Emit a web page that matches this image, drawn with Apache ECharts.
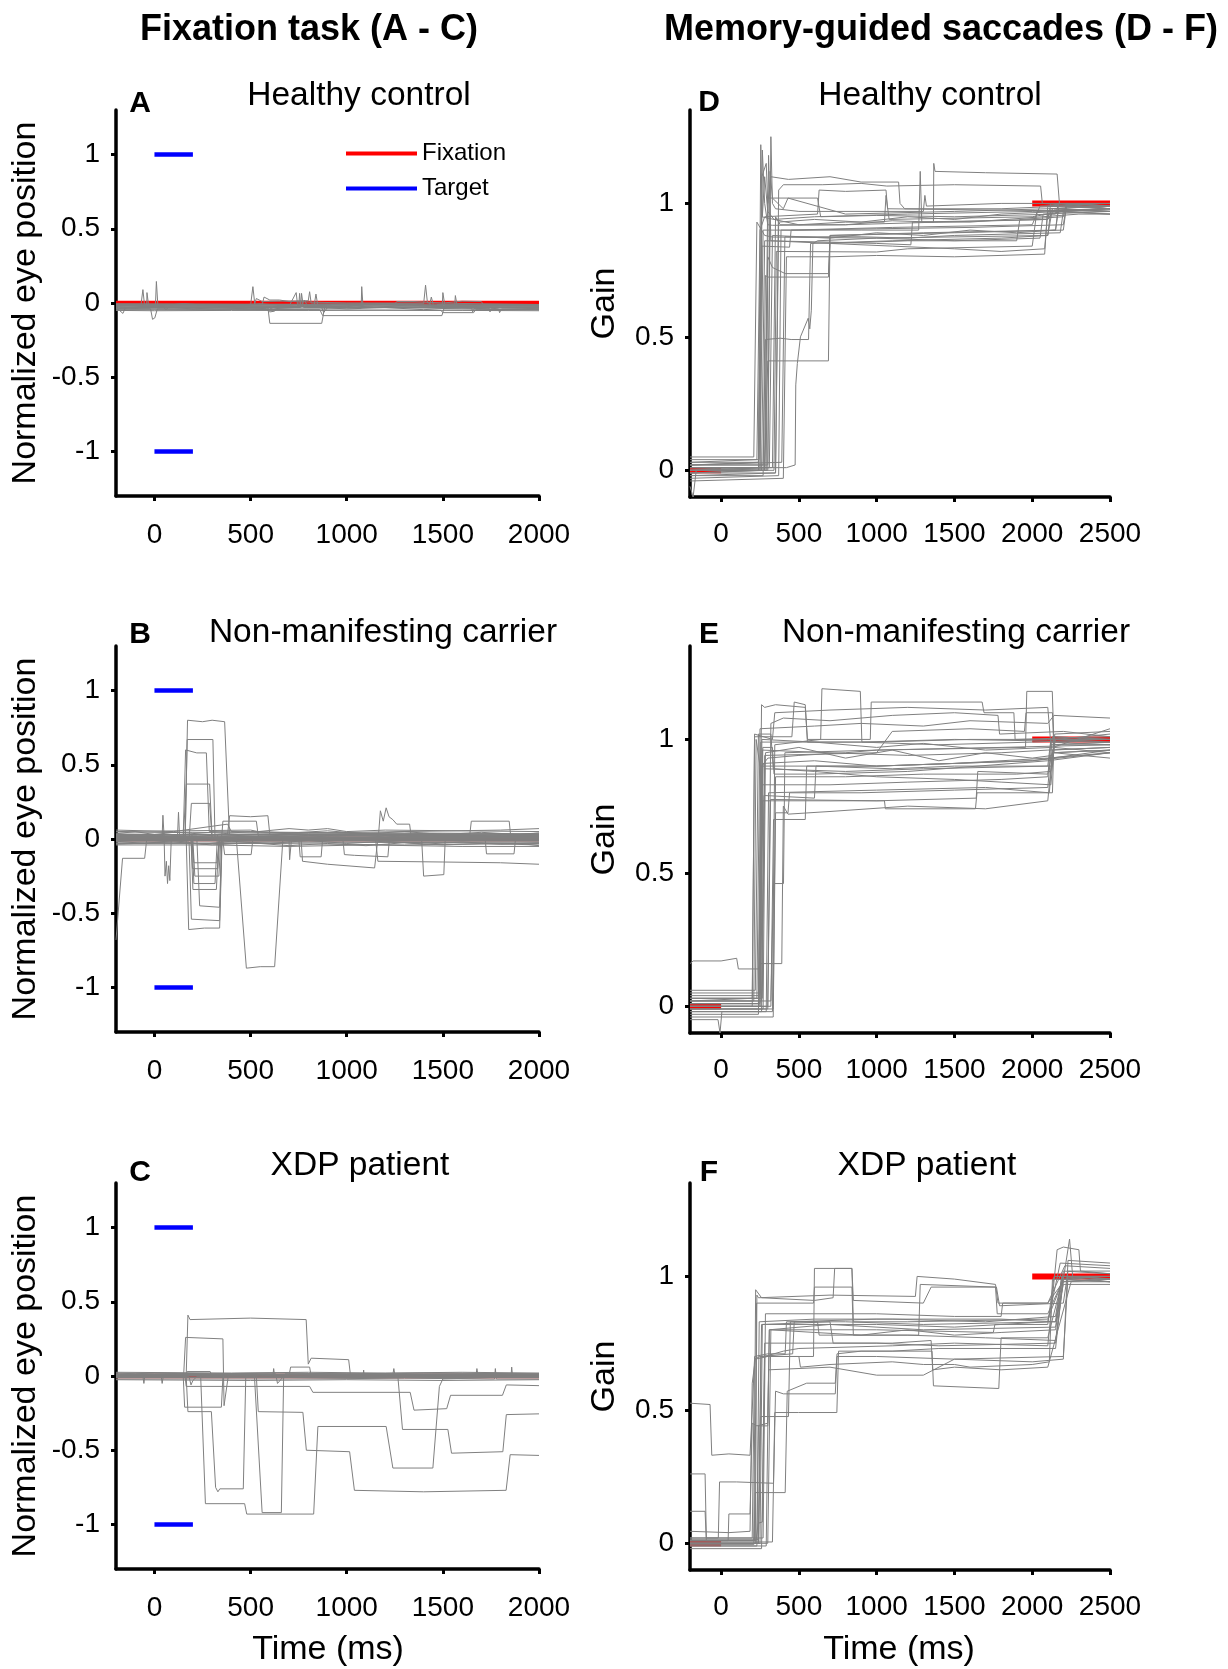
<!DOCTYPE html>
<html>
<head>
<meta charset="utf-8">
<script src="https://cdn.jsdelivr.net/npm/echarts@6/dist/echarts.min.js"></script>
<style>
html,body{margin:0;padding:0;background:#fff;}
#chart{width:1228px;height:1669px;}
</style>
</head>
<body>
<div id="chart"></div>
<script>
// ---------------- DATA ----------------
const leftXTicks = [0, 500, 1000, 1500, 2000];
const rightXTicks = [0, 500, 1000, 1500, 2000, 2500];
const leftYTicks = [-1, -0.5, 0, 0.5, 1];
const rightYTicks = [0, 0.5, 1];

const columnHeaders = ['Fixation task (A - C)', 'Memory-guided saccades (D - F)'];
const panelLetters = ['A', 'B', 'C', 'D', 'E', 'F'];
const panelTitles = ['Healthy control', 'Non-manifesting carrier', 'XDP patient',
                     'Healthy control', 'Non-manifesting carrier', 'XDP patient'];

const fixationLeft = [[-200, 0], [2000, 0]];
const fixationRightStart = [[-200, 0], [0, 0]];
const fixationRightEnd = [[2000, 1], [2500, 1]];
const targetUp = [[0, 1], [200, 1]];
const targetDown = [[0, -1], [200, -1]];

// traces: flat [t, y, t, y, ...]
const healthyFixTraces = [
  [-200,-0.01, -70,-0.012, -60,0.09, -52,-0.01, 500,-0.015, 512,0.11, 522,-0.01, 2000,-0.012],
  [-200,-0.02, -40,-0.02, -39,0.07, -30,-0.02, 5,-0.02, 10,0.145, 18,-0.02, 700,-0.022, 737,0.07, 745,-0.02, 2000,-0.02],
  [-200,-0.03, -164,-0.07, -150,-0.03, 590,-0.03, 600,-0.137, 870,-0.137, 885,-0.03, 2000,-0.03],
  [-200,-0.04, -20,-0.04, -10,-0.11, 2,-0.1, 15,-0.04, 860,-0.045, 875,-0.085, 1495,-0.085, 1505,-0.04, 2000,-0.045],
  [-200,-0.005, 300,-0.008, 520,-0.01, 530,0.03, 560,0.01, 800,0.015, 807,0.076, 815,0.0, 1400,-0.005, 1410,0.12, 1420,0.0, 2000,-0.01],
  [-200,-0.035, 100,-0.03, 580,-0.04, 600,-0.06, 625,-0.055, 640,-0.035, 1075,-0.035, 1078,0.11, 1085,-0.03, 2000,-0.035],
  [-200,-0.015, 40,-0.02, 60,-0.045, 80,-0.02, 830,-0.02, 840,0.06, 850,-0.02, 1497,-0.02, 1500,0.07, 1510,-0.015, 2000,-0.02],
  [-200,-0.028, 760,-0.03, 765,0.065, 775,-0.03, 870,-0.03, 880,-0.065, 900,-0.03, 1561,-0.025, 1565,0.05, 1575,-0.025, 2000,-0.025],
  [-200,-0.045, 500,-0.045, 1490,-0.05, 1500,-0.065, 1660,-0.065, 1670,-0.045, 2000,-0.045],
  [-200,-0.022, 900,-0.022, 1000,-0.025, 1100,-0.01, 1300,-0.01, 1400,-0.02, 2000,-0.03],
  [-200,-0.038, 600,-0.04, 640,-0.02, 1000,-0.03, 1650,-0.035, 1655,-0.06, 1665,-0.035, 1740,-0.035, 1745,-0.06, 1755,-0.035, 1790,-0.04, 1795,-0.065, 1805,-0.04, 2000,-0.04],
  [-200,-0.012, 560,-0.012, 570,0.04, 600,0.02, 650,0.02, 700,0.01, 1000,0.0, 1430,0.0, 1440,-0.02, 2000,-0.015],
  [-200,-0.05, 0,-0.052, 400,-0.05, 800,-0.05, 1200,-0.048, 1600,-0.05, 2000,-0.052],
  [-200,-0.032, 750,-0.03, 755,0.065, 760,-0.025, 780,0.02, 800,-0.03, 2000,-0.032],
  [-200,-0.008, 1250,-0.008, 1260,0.01, 1350,0.01, 1500,0.0, 1600,0.012, 1700,0.01, 1710,-0.01, 2000,-0.01],
  [-200,-0.018, 1430,-0.02, 1440,0.04, 1450,-0.01, 1460,-0.03, 1470,-0.01, 2000,-0.02],
  [-200,-0.025, -100,-0.035, 0,-0.02, 200,-0.04, 400,-0.025, 600,-0.04, 800,-0.025, 1000,-0.04, 1200,-0.03, 1400,-0.045, 1600,-0.03, 1800,-0.045, 2000,-0.035],
  [-200,-0.01, -50,-0.025, 150,-0.005, 350,-0.02, 550,-0.005, 750,-0.025, 950,-0.01, 1150,-0.03, 1350,-0.01, 1550,-0.025, 1750,-0.01, 2000,-0.02]
];

const carrierFixTraces = [
  [-200,0.02, 160,0.02, 172,0.8, 250,0.79, 300,0.8, 365,0.79, 390,0.03, 2000,0.02],
  [-200,0.0, 160,0.0, 170,0.67, 304,0.67, 315,0.0, 2000,0.0],
  [-200,0.03, 150,0.03, 162,0.6, 220,0.58, 270,0.58, 285,0.05, 2000,0.03],
  [-200,0.01, 150,0.01, 166,0.37, 287,0.37, 300,0.01, 2000,0.01],
  [-200,-0.01, 180,-0.01, 192,0.24, 287,0.24, 300,-0.01, 2000,-0.01],
  [-200,0.01, 165,0.01, 178,-0.61, 260,-0.6, 339,-0.6, 352,0.0, 2000,0.01],
  [-200,-0.02, 180,-0.02, 192,-0.54, 339,-0.55, 350,-0.02, 2000,-0.02],
  [-200,0.02, 220,0.02, 235,-0.45, 339,-0.46, 350,0.02, 2000,0.02],
  [-200,0.0, 190,0.0, 200,-0.34, 322,-0.34, 335,0.0, 2000,0.0],
  [-200,0.03, 195,0.03, 205,-0.3, 315,-0.3, 328,0.03, 2000,0.03],
  [-200,-0.01, 200,-0.01, 210,-0.25, 335,-0.25, 345,-0.01, 2000,-0.01],
  [-200,0.01, 190,0.01, 198,-0.2, 330,-0.2, 340,0.01, 2000,0.01],
  [-200,0.0, 195,0.0, 205,-0.16, 325,-0.16, 338,0.0, 2000,0.0],
  [-200,0.02, 40,0.02, 44,0.16, 50,0.02, 55,-0.25, 62,-0.15, 68,-0.3, 74,-0.18, 80,-0.28, 88,0.02, 120,0.02, 125,0.18, 131,0.0, 2000,0.02],
  [-200,-0.68, -166,-0.13, -51,-0.13, -40,0.0, 2000,0.01],
  [-200,0.0, 426,0.0, 478,-0.87, 550,-0.86, 625,-0.86, 668,0.0, 2000,0.0],
  [-200,0.03, 380,0.03, 391,0.157, 500,0.15, 590,0.157, 600,0.03, 2000,0.02],
  [-200,0.02, 350,0.02, 356,0.12, 530,0.12, 540,0.02, 2000,0.02],
  [-200,0.0, 355,0.0, 365,-0.105, 503,-0.105, 512,0.0, 2000,0.0],
  [-200,0.01, 750,0.01, 758,-0.12, 867,-0.12, 875,0.01, 980,0.0, 988,-0.105, 1041,-0.11, 1214,-0.12, 1222,0.0, 2000,0.0],
  [-200,-0.01, 700,-0.01, 703,-0.14, 712,-0.01, 763,-0.01, 770,-0.15, 900,-0.17, 1145,-0.195, 1160,-0.02, 2000,-0.02],
  [-200,0.0, 1150,0.0, 1162,-0.15, 1500,-0.155, 1800,-0.16, 2000,-0.17],
  [-200,0.02, 1165,0.02, 1175,0.19, 1190,0.12, 1205,0.21, 1220,0.15, 1240,0.13, 1260,0.1, 1327,0.1, 1335,0.02, 2000,0.02],
  [-200,-0.01, 1390,-0.01, 1400,-0.25, 1505,-0.24, 1512,-0.01, 2000,-0.01],
  [-200,0.03, 1640,0.03, 1648,0.12, 1845,0.12, 1852,0.03, 2000,0.04],
  [-200,0.0, 1720,0.0, 1727,-0.1, 1870,-0.1, 1878,0.0, 2000,0.0],
  [-200,0.05, 500,0.06, 540,0.05, 700,0.07, 800,0.06, 900,0.07, 1000,0.05, 1200,0.06, 2000,0.05],
  [-200,-0.04, 300,-0.04, 700,-0.05, 1100,-0.04, 1600,-0.05, 2000,-0.05],
  [-200,0.06, 100,0.05, 380,0.1, 400,0.05, 800,0.04, 1800,0.06, 2000,0.07],
  [-200,-0.03, 600,-0.03, 1300,-0.04, 2000,-0.03],
  [-200,0.04, 200,0.045, 800,0.035, 1400,0.04, 2000,0.035],
  [-200,-0.02, 900,-0.02, 1500,-0.025, 1900,-0.03, 2000,-0.045],
  [-200,0.015, 400,0.02, 1000,0.01, 1600,0.015, 2000,0.01],
  [-200,0.035, -100,0.05, 0,0.03, 100,0.045, 300,0.03, 500,0.05, 700,0.04, 900,0.055, 1100,0.035, 1300,0.05, 1500,0.03, 1700,0.045, 1900,0.03, 2000,0.04],
  [-200,-0.015, -50,-0.03, 100,-0.01, 250,-0.035, 400,-0.015, 600,-0.03, 800,-0.01, 1000,-0.03, 1200,-0.015, 1400,-0.035, 1600,-0.02, 1800,-0.035, 2000,-0.025],
  [-200,0.005, 0,0.02, 200,0.0, 400,0.02, 600,0.005, 800,0.025, 1000,0.0, 1200,0.02, 1400,0.005, 1600,0.025, 1800,0.01, 2000,0.02],
  [-200,0.025, 150,0.01, 350,0.03, 550,0.015, 750,0.035, 950,0.02, 1150,0.035, 1350,0.015, 1550,0.03, 1750,0.015, 2000,0.03],
  [-200,-0.035, 100,-0.02, 300,-0.04, 500,-0.025, 700,-0.045, 900,-0.03, 1100,-0.045, 1300,-0.025, 1500,-0.04, 1700,-0.03, 2000,-0.04]
];

const patientFixTraces = [
  [-200,0.0, 165,0.0, 174,0.41, 185,0.38, 500,0.39, 789,0.38, 800,0.08, 815,0.12, 1010,0.11, 1020,0.0, 2000,0.0],
  [-200,0.01, 152,0.01, 162,0.26, 356,0.25, 362,-0.2, 372,-0.2, 385,0.01, 2000,0.01],
  [-200,-0.01, 150,-0.01, 157,-0.21, 348,-0.21, 356,-0.01, 2000,-0.01],
  [-200,0.0, 165,0.0, 174,-0.24, 296,-0.24, 318,-0.75, 330,-0.78, 340,-0.76, 462,-0.76, 475,0.0, 2000,0.0],
  [-200,0.01, 240,0.01, 265,-0.86, 469,-0.86, 480,-0.93, 828,-0.93, 850,-0.34, 1205,-0.34, 1240,-0.62, 1448,-0.62, 1482,-0.07, 1500,-0.02, 2000,0.0],
  [-200,0.0, 520,0.0, 560,-0.92, 660,-0.92, 672,0.0, 2000,0.0],
  [-200,-0.01, 160,-0.01, 165,-0.07, 807,-0.07, 824,-0.11, 1330,-0.11, 1350,-0.23, 1520,-0.22, 1540,-0.13, 1810,-0.13, 1830,-0.06, 2000,-0.065],
  [-200,0.0, 530,0.0, 540,-0.24, 772,-0.245, 790,-0.5, 1015,-0.51, 1040,-0.77, 1400,-0.78, 1829,-0.77, 1850,-0.53, 2000,-0.535],
  [-200,0.01, 1265,0.01, 1290,-0.36, 1526,-0.36, 1545,-0.52, 1812,-0.51, 1830,-0.26, 2000,-0.255],
  [-200,0.0, 162,0.0, 170,0.03, 290,0.03, 298,0.0, 700,0.0, 708,0.06, 807,0.06, 815,0.0, 2000,0.0],
  [-200,0.02, -100,0.015, 0,0.02, 300,0.015, 600,0.02, 1000,0.015, 1400,0.02, 2000,0.015],
  [-200,0.0, -60,0.0, -55,-0.05, -50,0.0, 400,0.005, 616,0.0, 620,0.05, 625,0.0, 2000,0.0],
  [-200,-0.01, 36,-0.01, 40,-0.05, 45,-0.01, 1084,-0.01, 1088,0.04, 1092,-0.01, 2000,-0.01],
  [-200,0.01, 500,0.012, 1240,0.01, 1245,0.05, 1250,0.01, 1673,0.01, 1677,0.05, 1682,0.01, 2000,0.01],
  [-200,-0.02, 700,-0.02, 1300,-0.015, 1769,-0.02, 1773,0.05, 1778,-0.02, 2000,-0.02],
  [-200,0.005, 900,0.005, 1855,0.005, 1858,0.06, 1862,0.005, 2000,0.005],
  [-200,0.025, 400,0.02, 800,0.025, 1200,0.02, 1600,0.025, 2000,0.02],
  [-200,-0.025, 500,-0.03, 1000,-0.025, 1500,-0.03, 2000,-0.025],
  [-200,-0.005, 180,-0.005, 190,-0.06, 200,-0.03, 220,-0.005, 2000,-0.005],
  [-200,0.015, 630,0.015, 640,-0.05, 660,-0.02, 680,0.015, 2000,0.015],
  [-200,0.0, 100,0.015, 300,-0.005, 500,0.015, 700,-0.01, 900,0.01, 1100,-0.01, 1300,0.015, 1500,-0.005, 1700,0.015, 1900,-0.005, 2000,0.01]
];

const healthyMgsTraces = [
  [-200,0.02, 240,0.03, 262,1.1, 290,1.15, 300,1.0, 320,1.1, 433,1.09, 700,1.1, 900,1.08, 1141,1.08, 1150,1.0, 1180,0.98, 1800,0.98, 2200,0.99, 2500,0.99],
  [-200,0.0, 330,0.01, 350,0.95, 380,0.92, 800,0.92, 1100,0.935, 1365,0.93, 1367,1.15, 1375,1.12, 1700,1.115, 2160,1.11, 2175,1.0, 2500,0.99],
  [-200,-0.02, 350,-0.01, 370,1.05, 400,1.07, 650,1.07, 900,1.075, 1065,1.065, 1500,1.07, 2054,1.065, 2065,1.0, 2500,0.98],
  [-200,0.03, 230,0.04, 250,0.9, 280,0.95, 620,0.96, 630,1.05, 800,1.045, 1060,1.05, 1070,0.98, 2500,0.97],
  [-200,0.0, 280,0.0, 300,1.02, 620,1.02, 640,0.95, 1000,0.955, 1500,0.95, 2150,0.96, 2170,1.0, 2500,0.99],
  [-200,0.01, 250,0.01, 265,1.2, 280,1.0, 300,0.92, 330,0.918, 800,0.92, 1400,0.93, 2100,0.94, 2150,0.98, 2500,0.97],
  [-200,-0.03, 370,-0.02, 385,0.9, 500,0.9, 1000,0.905, 1600,0.91, 2200,0.92, 2220,0.99, 2500,0.98],
  [-200,0.02, 390,0.03, 410,0.875, 900,0.875, 1200,0.87, 1500,0.88, 2180,0.89, 2200,0.97, 2500,0.98],
  [-200,-0.01, 260,0.0, 280,0.86, 700,0.855, 1000,0.85, 1220,0.845, 1230,0.93, 1700,0.935, 2100,0.94, 2120,1.0, 2500,1.0],
  [-200,0.04, 245,0.04, 262,0.84, 440,0.836, 450,0.9, 1100,0.91, 2000,0.92, 2050,0.99, 2500,1.0],
  [-200,0.0, 340,0.0, 355,0.82, 1000,0.818, 1200,0.83, 2000,0.84, 2030,0.97, 2500,0.98],
  [-200,-0.04, 400,-0.03, 420,0.8, 440,0.8, 700,0.8, 1000,0.805, 1500,0.8, 2080,0.81, 2100,0.99, 2500,0.98],
  [-200,0.01, 280,0.0, 300,0.8, 330,0.76, 412,0.737, 690,0.737, 700,0.85, 1200,0.86, 1900,0.86, 1920,0.94, 2200,0.95, 2220,1.0, 2500,0.99],
  [-200,-0.02, 270,-0.02, 285,0.73, 300,0.724, 690,0.724, 700,0.88, 1300,0.89, 2150,0.9, 2170,1.0, 2500,0.98],
  [-200,0.02, 270,0.02, 285,0.49, 380,0.495, 450,0.49, 562,0.49, 575,0.85, 1100,0.86, 1800,0.87, 2100,0.88, 2120,0.98, 2500,0.99],
  [-200,0.0, 280,0.01, 300,0.41, 690,0.41, 700,0.88, 1500,0.89, 2200,0.9, 2220,0.99, 2500,0.98],
  [-200,0.01, 420,0.01, 476,0.02, 480,0.32, 490,0.4, 510,0.5, 560,0.57, 570,0.53, 580,0.6, 590,0.85, 620,0.86, 1000,0.87, 2100,0.88, 2130,0.98, 2500,0.97],
  [-200,0.03, 240,0.03, 255,1.22, 265,0.95, 280,1.1, 300,0.97, 340,0.94, 600,0.95, 1200,0.96, 2000,0.97, 2500,0.98],
  [-200,-0.01, 300,0.0, 320,1.25, 330,1.0, 350,0.98, 500,0.97, 1300,0.97, 1310,1.03, 1320,0.99, 1800,1.0, 2500,1.0],
  [-200,0.05, 210,0.05, 230,0.93, 260,0.9, 280,0.88, 330,0.874, 1000,0.87, 1500,0.86, 2050,0.87, 2070,0.96, 2500,0.97],
  [-200,-0.06, -180,-0.1, -160,0.0, 240,0.0, 260,0.95, 500,0.92, 800,0.93, 1050,0.93, 1060,1.03, 1080,0.94, 2000,0.95, 2200,0.97, 2500,0.96],
  [-200,0.02, 300,0.02, 315,1.12, 330,1.02, 400,0.98, 430,1.02, 800,0.96, 1500,0.97, 2100,0.98, 2500,0.99],
  [-200,0.0, 250,0.0, 270,0.9, 900,0.9, 1270,0.9, 1280,1.12, 1290,0.93, 1600,0.93, 2300,0.96, 2500,0.96],
  [-200,0.01, 310,0.01, 330,0.88, 700,0.87, 1000,0.89, 1300,0.88, 1600,0.9, 1900,0.89, 2150,0.9, 2170,0.98, 2500,0.97],
  [-200,-0.01, 350,-0.01, 370,0.93, 600,0.94, 900,0.93, 1200,0.95, 1500,0.94, 1800,0.96, 2200,0.97, 2500,0.98],
  [-200,0.0, 290,0.0, 305,1.18, 320,0.86, 700,0.85, 1100,0.84, 1500,0.83, 1800,0.82, 2080,0.83, 2100,0.97, 2500,0.96]
];

const carrierMgsTraces = [
  [-200,0.16, -180,0.17, 0,0.17, 100,0.18, 111,0.14, 240,0.14, 250,0.16, 390,0.16, 400,0.75, 430,0.72, 700,0.73, 1200,0.75, 1700,0.74, 2100,0.77, 2130,0.95, 2500,0.96],
  [-200,0.02, 200,0.03, 215,1.01, 455,1.01, 470,1.14, 541,1.13, 555,0.99, 1000,0.99, 1600,1.0, 2100,1.0, 2500,1.0],
  [-200,-0.02, 330,-0.02, 345,0.98, 640,1.0, 648,1.19, 895,1.18, 905,0.99, 1500,1.0, 2500,0.99],
  [-200,0.01, 240,0.01, 260,1.13, 280,1.12, 350,1.13, 541,1.12, 555,1.0, 959,1.0, 965,1.14, 1678,1.14, 1690,1.1, 1882,1.1, 1890,1.0, 2500,1.01],
  [-200,0.0, 245,0.0, 262,0.9, 300,0.93, 500,0.94, 800,0.95, 1000,0.96, 1957,0.97, 1965,1.18, 2129,1.18, 2140,0.98, 2500,0.98],
  [-200,0.03, 230,0.03, 250,1.04, 600,1.05, 900,1.06, 1300,1.05, 1600,1.07, 2100,1.06, 2140,1.09, 2500,1.08],
  [-200,-0.03, 240,-0.03, 255,0.99, 900,0.99, 1400,0.98, 2000,0.99, 2500,1.0],
  [-200,0.04, 250,0.04, 265,0.96, 700,0.95, 1200,0.94, 1800,0.95, 2100,0.96, 2500,0.97],
  [-200,0.0, 255,0.0, 270,0.91, 600,0.92, 1000,0.9, 1500,0.91, 2100,0.93, 2500,0.95],
  [-200,0.02, 260,0.02, 280,0.89, 800,0.88, 1300,0.89, 2100,0.9, 2120,1.0, 2500,0.99],
  [-200,-0.01, 335,-0.01, 350,0.86, 800,0.86, 1300,0.87, 1900,0.87, 2120,0.88, 2140,1.0, 2500,1.0],
  [-200,0.01, 240,0.01, 260,0.83, 700,0.83, 1200,0.84, 1800,0.85, 2100,0.86, 2120,0.99, 2500,0.98],
  [-200,-0.02, 260,-0.02, 275,0.79, 600,0.78, 610,0.9, 1100,0.89, 1500,0.9, 2130,0.9, 2145,1.02, 2500,1.03],
  [-200,0.0, 300,0.0, 318,0.775, 1000,0.77, 1640,0.78, 1650,0.88, 2100,0.87, 2130,0.96, 2500,0.97],
  [-200,0.05, 250,0.05, 265,0.77, 1050,0.77, 1056,0.74, 1635,0.74, 1645,0.8, 2130,0.8, 2140,1.01, 2500,1.0],
  [-200,-0.04, 335,-0.04, 350,0.725, 430,0.725, 440,0.8, 900,0.8, 1500,0.81, 2100,0.82, 2130,1.01, 2500,1.0],
  [-200,0.0, 320,0.0, 337,0.7, 541,0.7, 550,0.9, 1000,0.9, 2000,0.92, 2500,0.96],
  [-200,0.02, 320,0.02, 337,0.46, 401,0.46, 410,0.95, 1000,0.96, 1800,0.97, 2500,0.98],
  [-200,0.06, 220,0.06, 240,1.02, 320,1.02, 335,0.89, 600,0.88, 1000,0.86, 1500,0.85, 1800,0.84, 2120,0.83, 2140,0.97, 2500,0.95],
  [-200,-0.01, 300,-0.01, 320,1.06, 400,1.08, 700,1.07, 1100,1.09, 1500,1.1, 1780,1.09, 1790,1.02, 2200,1.03, 2500,1.01],
  [-200,0.0, 200,0.0, 215,1.02, 330,1.0, 345,1.1, 700,1.11, 1200,1.12, 1700,1.11, 2100,1.12, 2120,0.98, 2500,0.99],
  [-200,0.03, 265,0.03, 280,0.94, 1000,0.95, 1100,1.03, 1600,1.04, 1950,1.03, 1960,1.1, 2130,1.1, 2140,0.95, 2500,0.93],
  [-200,-0.05, -20,-0.05, -7,-0.1, 5,-0.02, 290,-0.02, 305,0.8, 1000,0.81, 1700,0.82, 2110,0.8, 2130,0.95, 2500,0.96],
  [-200,0.01, 250,0.01, 268,0.97, 330,0.97, 340,0.87, 600,0.87, 1200,0.88, 2100,0.92, 2500,0.95],
  [-200,0.02, 210,0.02, 225,1.0, 250,0.9, 1000,0.9, 2000,0.92, 2500,0.95],
  [-200,-0.01, 270,-0.01, 285,0.95, 500,0.97, 800,0.93, 1100,0.96, 1400,0.92, 1700,0.95, 2000,0.93, 2130,0.94, 2150,1.0, 2500,1.02],
  [-200,0.03, 250,0.03, 262,1.0, 600,0.99, 1000,0.97, 1300,0.985, 1700,0.96, 2130,0.97, 2500,1.04]
];

const patientMgsTraces = [
  [-200,0.525, -71,0.52, -60,0.33, 50,0.335, 186,0.33, 200,0.5, 215,0.69, 250,0.7, 460,0.71, 470,0.83, 800,0.83, 1300,0.82, 2150,0.83, 2190,1.0, 2500,1.0],
  [-200,0.26, -103,0.26, -95,0.02, -18,0.02, -10,0.23, 100,0.23, 337,0.225, 350,0.57, 400,0.56, 734,0.56, 745,0.7, 1000,0.7, 1500,0.69, 2200,0.7, 2230,1.0, 2500,0.99],
  [-200,0.12, -103,0.12, -95,0.01, 45,0.01, 50,0.11, 186,0.11, 200,0.45, 230,0.44, 300,0.45, 310,0.8, 700,0.82, 1300,0.8, 2150,0.81, 2200,1.02, 2500,1.01],
  [-200,0.045, 50,0.04, 186,0.045, 200,0.6, 220,0.69, 300,0.7, 500,0.7, 510,0.66, 700,0.67, 1100,0.68, 1300,0.67, 1500,0.67, 1600,0.66, 2000,0.67, 2110,0.68, 2130,0.99, 2500,0.98],
  [-200,0.0, 220,0.0, 230,0.93, 240,0.92, 700,0.93, 1249,0.925, 1260,1.0, 1500,0.99, 1764,0.97, 1780,0.9, 2100,0.9, 2200,0.98, 2500,0.99],
  [-200,0.01, 210,0.01, 222,0.95, 260,0.92, 600,0.91, 720,0.92, 730,1.03, 841,1.03, 850,0.91, 1300,0.9, 1350,0.96, 1770,0.96, 1790,0.89, 2200,0.9, 2230,1.02, 2500,1.02],
  [-200,-0.01, 230,-0.01, 245,0.83, 600,0.84, 1100,0.84, 1700,0.83, 2150,0.85, 2190,1.0, 2500,0.98],
  [-200,0.0, 240,0.0, 260,0.82, 1000,0.82, 1500,0.81, 1800,0.82, 2100,0.83, 2180,1.05, 2500,1.04],
  [-200,0.02, 200,0.02, 215,0.7, 300,0.71, 412,0.71, 420,0.83, 620,0.83, 630,0.78, 1200,0.78, 1700,0.77, 2150,0.76, 2200,0.98, 2500,0.99],
  [-200,-0.02, 260,-0.02, 280,0.75, 1000,0.75, 1400,0.74, 2150,0.75, 2200,1.0, 2500,1.0],
  [-200,0.01, 225,0.01, 238,0.075, 265,0.08, 280,0.7, 400,0.72, 500,0.73, 1100,0.74, 1500,0.75, 2100,0.74, 2160,1.1, 2200,1.11, 2300,1.1, 2310,1.02, 2500,1.01],
  [-200,0.0, 230,0.0, 240,0.44, 300,0.44, 310,0.8, 1000,0.8, 1750,0.79, 1760,0.82, 2100,0.82, 2140,1.0, 2500,1.0],
  [-200,0.015, 240,0.015, 255,0.475, 433,0.475, 445,0.83, 1000,0.84, 1800,0.84, 2150,0.83, 2200,0.97, 2500,0.97],
  [-200,-0.005, 210,-0.005, 220,0.19, 412,0.19, 425,0.57, 550,0.6, 734,0.6, 745,0.71, 900,0.72, 1356,0.72, 1365,0.59, 1785,0.58, 1800,0.77, 2100,0.77, 2200,1.0, 2500,0.99],
  [-200,0.005, 330,0.005, 345,0.49, 498,0.49, 744,0.49, 755,0.72, 1100,0.72, 1400,0.73, 2150,0.73, 2200,1.0, 2500,1.0],
  [-200,0.0, 240,0.0, 255,0.7, 594,0.7, 600,1.03, 841,1.03, 850,0.83, 1200,0.83, 2100,0.84, 2200,0.99, 2500,0.98],
  [-200,0.01, 215,0.01, 228,0.9, 594,0.9, 600,0.96, 841,0.96, 850,0.78, 1270,0.78, 1280,0.97, 1764,0.96, 1775,0.86, 2100,0.86, 2200,0.99, 2500,1.0],
  [-200,-0.01, 290,-0.01, 305,0.65, 700,0.66, 1000,0.63, 1300,0.63, 1500,0.69, 2000,0.68, 2200,0.69, 2230,1.06, 2500,1.05],
  [-200,0.0, 250,0.0, 265,0.82, 700,0.83, 720,0.75, 1100,0.75, 1350,0.76, 1360,0.65, 1500,0.66, 1800,0.65, 2100,0.66, 2250,0.98, 2500,0.98],
  [-200,0.02, 270,0.02, 285,0.86, 1000,0.86, 1500,0.85, 1800,0.85, 1810,0.9, 2100,0.9, 2210,1.04, 2500,1.03],
  [-200,0.0, 300,0.0, 320,0.8, 600,0.79, 900,0.78, 1200,0.8, 1500,0.78, 1800,0.79, 2150,0.8, 2240,1.14, 2260,1.0, 2500,0.99]
];

// ---------------- CHART ----------------
const FONT = '"Liberation Sans", Arial, Helvetica, sans-serif';
const GRAY = '#808080';

const panels = [
  {traces: healthyFixTraces, side: 'L', grid: {left: 116, top: 110, width: 423, height: 386}},
  {traces: carrierFixTraces, side: 'L', grid: {left: 116, top: 646, width: 423, height: 386}},
  {traces: patientFixTraces, side: 'L', grid: {left: 116, top: 1183, width: 423, height: 386}},
  {traces: healthyMgsTraces, side: 'R', grid: {left: 690, top: 110, width: 420, height: 387}},
  {traces: carrierMgsTraces, side: 'R', grid: {left: 690, top: 646, width: 420, height: 387}},
  {traces: patientMgsTraces, side: 'R', grid: {left: 690, top: 1183, width: 420, height: 387}}
];

function toPairs(flat) {
  const out = [];
  for (let i = 0; i < flat.length; i += 2) out.push([flat[i], flat[i + 1]]);
  return out;
}
const plain = v => String(v);

const grid = [], xAxis = [], yAxis = [], series = [];

const axisCommon = {
  axisLine: {show: true, onZero: false, lineStyle: {color: '#000', width: 3.5}},
  axisTick: {show: true, inside: false, length: 5, lineStyle: {color: '#000', width: 3}},
  splitLine: {show: false},
  minorTick: {show: false}
};

panels.forEach((p, k) => {
  grid.push(Object.assign({containLabel: false}, p.grid));
  const L = p.side === 'L';
  xAxis.push(Object.assign({}, axisCommon, {
    type: 'value', gridIndex: k, min: -200, max: L ? 2000 : 2500,
    axisTick: Object.assign({}, axisCommon.axisTick, {customValues: L ? leftXTicks : rightXTicks}),
    axisLabel: {customValues: L ? leftXTicks : rightXTicks, formatter: plain,
      fontSize: 28, fontFamily: FONT, color: '#000', margin: L ? 25 : 23}
  }));
  yAxis.push(Object.assign({}, axisCommon, {
    type: 'value', gridIndex: k, min: L ? -1.3 : -0.1, max: L ? 1.3 : 1.35,
    axisTick: Object.assign({}, axisCommon.axisTick, {customValues: L ? leftYTicks : rightYTicks}),
    axisLabel: {customValues: L ? leftYTicks : rightYTicks, formatter: plain,
      fontSize: 28, fontFamily: FONT, color: '#000', margin: L ? 16 : 16}
  }));

  const redW = L ? 4.5 : 6;
  const fixSets = L ? [fixationLeft] : [fixationRightStart, fixationRightEnd];
  fixSets.forEach(d => series.push({
    name: 'Fixation', type: 'line', xAxisIndex: k, yAxisIndex: k, data: d,
    symbol: 'none', color: '#ff0000', lineStyle: {color: '#ff0000', width: redW, cap: 'butt'},
    z: 2, silent: true, animation: false
  }));
  if (L) {
    [targetUp, targetDown].forEach(d => series.push({
      name: 'Target', type: 'line', xAxisIndex: k, yAxisIndex: k, data: d,
      symbol: 'none', color: '#0000ff', lineStyle: {color: '#0000ff', width: 4.5, cap: 'butt'},
      z: 2, silent: true, animation: false
    }));
  }
  p.traces.forEach(tr => series.push({
    name: 'trace', type: 'line', xAxisIndex: k, yAxisIndex: k, data: toPairs(tr),
    symbol: 'none', lineStyle: {color: GRAY, width: 1}, z: 3, silent: true, animation: false
  }));
});

const graphic = [];
function txt(x, y, text, font, rot) {
  graphic.push({type: 'text', x: x, y: y, rotation: rot || 0,
    style: {text: text, font: font, fill: '#000', textAlign: 'center', textVerticalAlign: 'middle'}});
}
txt(309, 30, columnHeaders[0], 'bold 36px ' + FONT);
txt(941, 30, columnHeaders[1], 'bold 36px ' + FONT);

const titlePos = [[359, 96], [383, 633], [360, 1166], [930, 96], [956, 633], [927, 1166]];
const letterPos = [[140, 104], [140, 635], [140, 1173], [709, 103], [709, 635], [709, 1173]];
panels.forEach((p, k) => {
  txt(titlePos[k][0], titlePos[k][1], panelTitles[k], '33.5px ' + FONT);
  txt(letterPos[k][0], letterPos[k][1], panelLetters[k], 'bold 30px ' + FONT);
  const cy = p.grid.top + p.grid.height / 2;
  if (p.side === 'L') txt(26, cy, 'Normalized eye position', '34px ' + FONT, Math.PI / 2);
  else txt(605, cy, 'Gain', '34px ' + FONT, Math.PI / 2);
});
txt(328, 1650, 'Time (ms)', '34px ' + FONT);
txt(899, 1650, 'Time (ms)', '34px ' + FONT);

const chart = echarts.init(document.getElementById('chart'), null, {renderer: 'canvas'});
chart.setOption({
  backgroundColor: '#fff',
  animation: false,
  grid: grid,
  xAxis: xAxis,
  yAxis: yAxis,
  legend: {
    data: ['Fixation', 'Target'], orient: 'vertical', left: 346, top: 141.5, padding: 0,
    itemWidth: 71, itemHeight: 4, itemGap: 11, icon: 'rect', selectedMode: false,
    textStyle: {fontSize: 24, fontFamily: FONT, color: '#000'}
  },
  series: series,
  graphic: graphic
});
</script>
</body>
</html>
